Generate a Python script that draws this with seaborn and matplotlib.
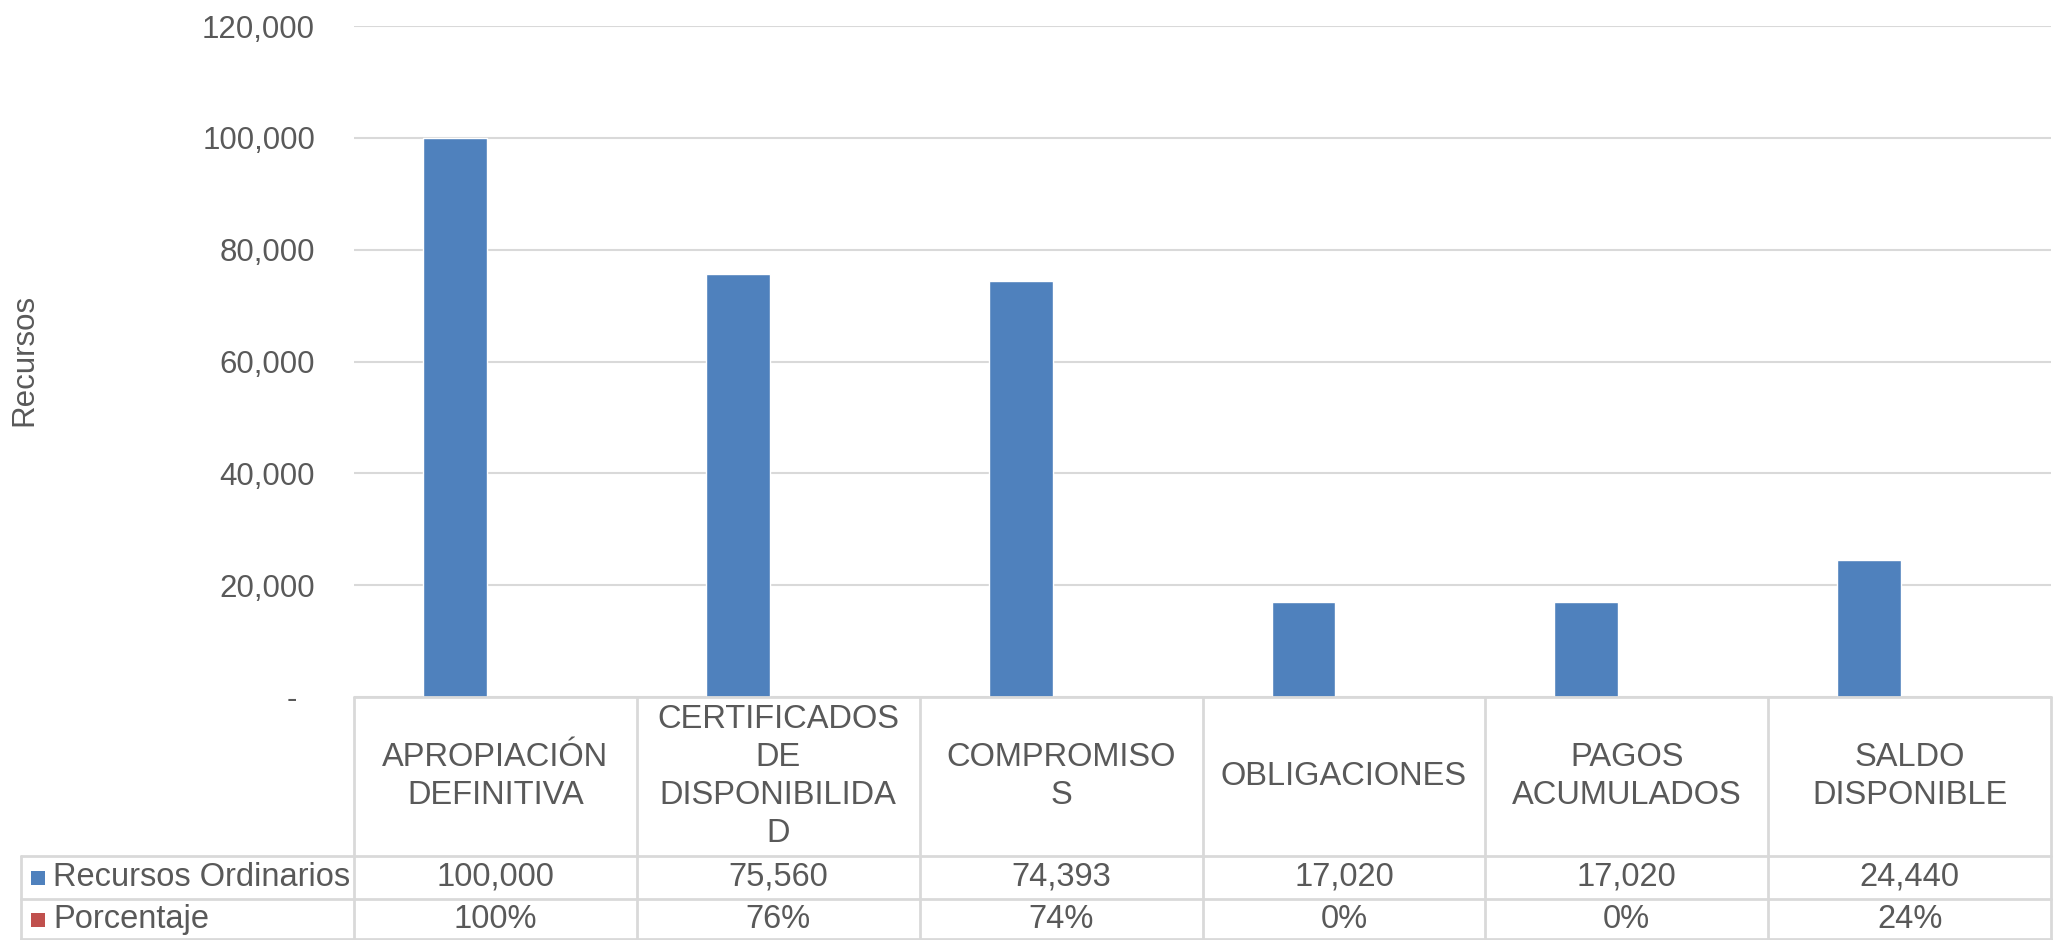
import matplotlib
matplotlib.use("Agg")
import matplotlib.pyplot as plt
import matplotlib.transforms as mtransforms
from matplotlib.lines import Line2D
from matplotlib.patches import Rectangle
import pandas as pd
import seaborn as sns

# ---------------- DATA ----------------
categorias = ["APROPIACIÓN DEFINITIVA", "CERTIFICADOS DE DISPONIBILIDAD",
              "COMPROMISOS", "OBLIGACIONES", "PAGOS ACUMULADOS", "SALDO DISPONIBLE"]
encabezados = ["APROPIACIÓN\nDEFINITIVA", "CERTIFICADOS\nDE\nDISPONIBILIDA\nD",
               "COMPROMISO\nS", "OBLIGACIONES", "PAGOS\nACUMULADOS", "SALDO\nDISPONIBLE"]
recursos = [100000, 75560, 74393, 17020, 17020, 24440]
porcentaje = [1.00, 0.76, 0.74, 0.00, 0.00, 0.24]
series = ["Recursos Ordinarios", "Porcentaje"]
colores = ["#4F81BD", "#C0504D"]
y_ticks = [0, 20000, 40000, 60000, 80000, 100000, 120000]

# ---------------- STYLE ----------------
sns.set_theme(style="white")
plt.rcParams["font.family"] = ["Liberation Sans", "DejaVu Sans"]
texto = "#595959"
linea = "#D9D9D9"
fs_tick = 22.5
fs = 23.5

W, H = 2055, 940
fig = plt.figure(figsize=(W / 100, H / 100), dpi=100)

def fy(px):
    return 1 - px / H

ax_left, ax_right, ax_top, ax_bottom = 354, 2051, 26, 697
ax = fig.add_axes([ax_left / W, fy(ax_bottom), (ax_right - ax_left) / W,
                   (ax_bottom - ax_top) / H])

df = pd.DataFrame({
    "Categoria": categorias * 2,
    "Serie": [series[0]] * len(categorias) + [series[1]] * len(categorias),
    "Valor": recursos + porcentaje,
})

sns.barplot(data=df, x="Categoria", y="Valor", hue="Serie", hue_order=series,
            order=categorias, palette=colores, width=0.572, gap=0.21,
            saturation=1, legend=False, ax=ax)

ax.set_xlim(-0.5, len(categorias) - 0.5)
ax.set_ylim(0, 120000)
ax.set_yticks(y_ticks)
ax.set_yticklabels(["-  " if v == 0 else f"{v:,}" for v in y_ticks],
                   fontsize=fs_tick, color=texto)
ax.tick_params(axis="y", length=0, pad=28)
ax.set_xticks([])
ax.set_xlabel("")
ax.set_ylabel("")
ax.yaxis.grid(True, color=linea, linewidth=1.5)
ax.set_axisbelow(True)
for s in ax.spines.values():
    s.set_visible(False)

fig.text(24 / W, fy(360), "Recursos", rotation=90, ha="center", va="center",
         fontsize=fs_tick, color=texto)

# ---------------- TABLE ----------------
trans = mtransforms.blended_transform_factory(ax.transData, fig.transFigure)
n = len(categorias)
head_bot, row1_bot, row2_bot = 856, 899, 940
leg_left = 21 / W

# horizontal lines
fig.add_artist(Line2D([-0.5, n - 0.5], [fy(ax_bottom)] * 2, transform=trans,
                      color=linea, lw=2))
for yy in [head_bot, row1_bot, row2_bot - 1]:
    fig.add_artist(Line2D([leg_left, ax_right / W], [fy(yy)] * 2,
                          transform=fig.transFigure, color=linea, lw=2))
# vertical lines
for i in range(n + 1):
    fig.add_artist(Line2D([i - 0.5, i - 0.5], [fy(ax_bottom), fy(row2_bot)],
                          transform=trans, color=linea, lw=2))
fig.add_artist(Line2D([leg_left, leg_left], [fy(head_bot), fy(row2_bot)],
                      transform=fig.transFigure, color=linea, lw=2))

# header text
for i, lab in enumerate(encabezados):
    fig.text(i, fy((ax_bottom + head_bot) / 2), lab, transform=trans,
             ha="center", va="center", fontsize=fs, color=texto,
             linespacing=1.28, multialignment="center")

# rows
filas = [
    (series[0], colores[0], [f"{v:,}" for v in recursos], (head_bot + row1_bot) / 2),
    (series[1], colores[1], [f"{v:.0%}" for v in porcentaje], (row1_bot + row2_bot) / 2),
]
for nombre, col, vals, yc in filas:
    fig.add_artist(Rectangle((31 / W, fy(yc + 7)), 14 / W, 14 / H,
                             transform=fig.transFigure, color=col, lw=0))
    fig.text(53 / W, fy(yc), nombre, ha="left", va="center", fontsize=fs,
             color=texto)
    for i, v in enumerate(vals):
        fig.text(i, fy(yc), v, transform=trans, ha="center", va="center",
                 fontsize=fs, color=texto)

fig.savefig("out.png", dpi=100)
